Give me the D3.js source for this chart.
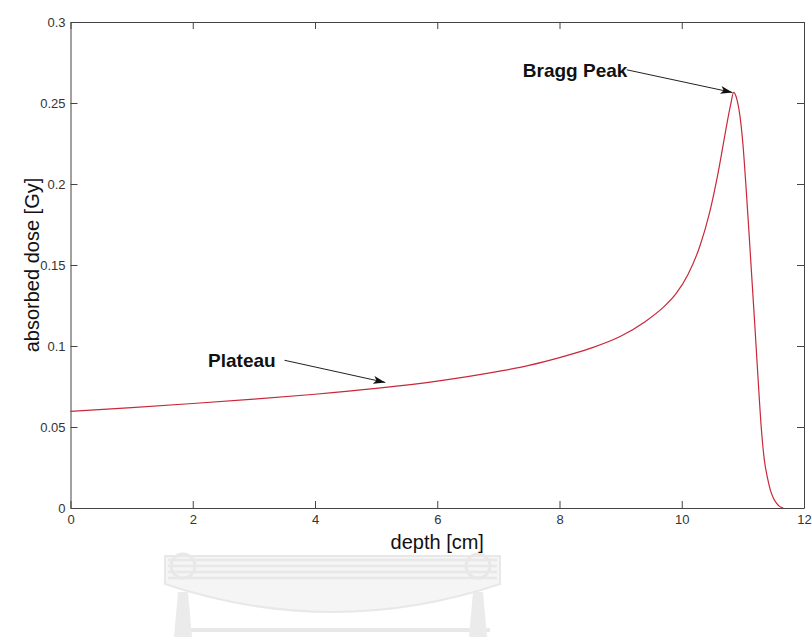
<!DOCTYPE html>
<html>
<head>
<meta charset="utf-8">
<script src="https://cdn.jsdelivr.net/npm/d3@7"></script>
<style>
  body { margin: 0; background: #fff; }
  text { font-family: "Liberation Sans", Arial, sans-serif; }
</style>
</head>
<body>
<script>
// data
var depth = [0, 1, 2, 3, 4, 5, 6, 7, 7.5, 8, 8.5, 9, 9.4, 9.7, 9.9, 10.1, 10.3, 10.45, 10.6, 10.7,
  10.8, 10.85, 10.9, 10.95, 11.0, 11.05, 11.1, 11.15, 11.2, 11.25, 11.3, 11.35, 11.4, 11.45, 11.5, 11.55, 11.6, 11.66];
var dose = [0.0597, 0.0620, 0.0645, 0.0672, 0.0702, 0.0738, 0.0783, 0.0843, 0.0880, 0.0928, 0.0985, 0.1060, 0.1150, 0.1240, 0.1320, 0.1440, 0.1620, 0.1815, 0.2080, 0.2290,
  0.2490, 0.2565, 0.2525, 0.2425, 0.2250, 0.1990, 0.1700, 0.1400, 0.1100, 0.0790, 0.0500, 0.0300, 0.0190, 0.0110, 0.0060, 0.0030, 0.0010, 0];

var xTicks = [0, 2, 4, 6, 8, 10, 12];
var yTicks = [0, 0.05, 0.1, 0.15, 0.2, 0.25, 0.3];

var noteLabels = ["Plateau", "Bragg Peak"];
var noteText = [[2.25, 0.091], [7.4, 0.270]];   // where the label starts
var noteFrom = [[3.5, 0.0912], [9.1, 0.2705]];   // arrow tail
var noteTo = [[5.15, 0.0775], [10.83, 0.2565]];   // arrow head

// Define SVG area dimensions
var svgWidth = 812;
var svgHeight = 637;

var margin = { top: 22, right: 8, bottom: 129, left: 70.5 };
var width = svgWidth - margin.left - margin.right;
var height = svgHeight - margin.top - margin.bottom;

var svg = d3.select("body").append("svg")
  .attr("width", svgWidth)
  .attr("height", svgHeight);

// faint watermark under the chart
var wm = svg.append("g").attr("fill", "none").attr("stroke", "#e8e8e8");
wm.append("path")
  .attr("d", "M165,556 L500,556 L500,584 Q332,640 165,584 Z")
  .attr("stroke-width", 2)
  .attr("fill", "#f5f5f5");
[560, 566, 572, 578].forEach(function(y) {
  wm.append("line").attr("x1", 168).attr("x2", 497).attr("y1", y).attr("y2", y).attr("stroke-width", 2.5);
});
wm.append("line").attr("x1", 175).attr("x2", 490).attr("y1", 630).attr("y2", 630).attr("stroke-width", 4);
[183, 478].forEach(function(x) {
  wm.append("path")
    .attr("d", `M${x - 5},592 L${x + 5},592 L${x + 9},637 L${x - 9},637 Z`)
    .attr("fill", "#ebebeb").attr("stroke", "none");
  wm.append("circle").attr("cx", x).attr("cy", 566).attr("r", 12).attr("stroke-width", 3);
});

var g = svg.append("g")
  .attr("transform", `translate(${margin.left}, ${margin.top})`);

var x = d3.scaleLinear().domain([0, 12]).range([0, width]);
var y = d3.scaleLinear().domain([0, 0.3]).range([height, 0]);

var fmt = function(d) { return d3.format("~g")(d); };

// axes with inward ticks on all four sides
g.append("g")
  .attr("transform", `translate(0, ${height})`)
  .call(d3.axisBottom(x).tickValues(xTicks).tickSizeInner(-7).tickSizeOuter(0).tickPadding(7).tickFormat(fmt));
g.append("g")
  .call(d3.axisTop(x).tickValues(xTicks).tickSizeInner(-7).tickSizeOuter(0).tickFormat(""));
g.append("g")
  .call(d3.axisLeft(y).tickValues(yTicks).tickSizeInner(-7).tickSizeOuter(0).tickPadding(5).tickFormat(fmt));
g.append("g")
  .attr("transform", `translate(${width}, 0)`)
  .call(d3.axisRight(y).tickValues(yTicks).tickSizeInner(-7).tickSizeOuter(0).tickFormat(""));

g.selectAll(".domain").attr("stroke", "#444");
g.selectAll(".tick line").attr("stroke", "#444");
g.selectAll(".tick text")
  .attr("fill", "#333")
  .style("font-size", "13px");

// the curve
var line = d3.line()
  .x(function(d, i) { return x(depth[i]); })
  .y(function(d) { return y(d); })
  .curve(d3.curveMonotoneX);

g.append("path")
  .datum(dose)
  .attr("fill", "none")
  .attr("stroke", "#c8283a")
  .attr("stroke-width", 1.2)
  .attr("d", line);

// axis titles
svg.append("text")
  .attr("x", margin.left + width / 2)
  .attr("y", 549)
  .attr("text-anchor", "middle")
  .style("font-size", "20px")
  .attr("fill", "#111")
  .text("depth [cm]");

svg.append("text")
  .attr("transform", `translate(39, ${margin.top + height / 2}) rotate(-90)`)
  .attr("text-anchor", "middle")
  .style("font-size", "20px")
  .attr("fill", "#111")
  .text("absorbed dose [Gy]");

// annotations
svg.append("defs").append("marker")
  .attr("id", "head")
  .attr("viewBox", "0 0 12 8")
  .attr("refX", 12).attr("refY", 4)
  .attr("markerWidth", 12).attr("markerHeight", 8)
  .attr("markerUnits", "userSpaceOnUse")
  .attr("orient", "auto")
  .append("path")
  .attr("d", "M0,0 L12,4 L0,8 L3,4 Z")
  .attr("fill", "#111");

noteLabels.forEach(function(label, i) {
  g.append("text")
    .attr("x", x(noteText[i][0]))
    .attr("y", y(noteText[i][1]))
    .attr("dy", "0.35em")
    .style("font-size", "19px")
    .style("font-weight", "bold")
    .attr("fill", "#111")
    .text(label);
  g.append("line")
    .attr("x1", x(noteFrom[i][0])).attr("y1", y(noteFrom[i][1]))
    .attr("x2", x(noteTo[i][0])).attr("y2", y(noteTo[i][1]))
    .attr("stroke", "#222")
    .attr("stroke-width", 1)
    .attr("marker-end", "url(#head)");
});
</script>
</body>
</html>
